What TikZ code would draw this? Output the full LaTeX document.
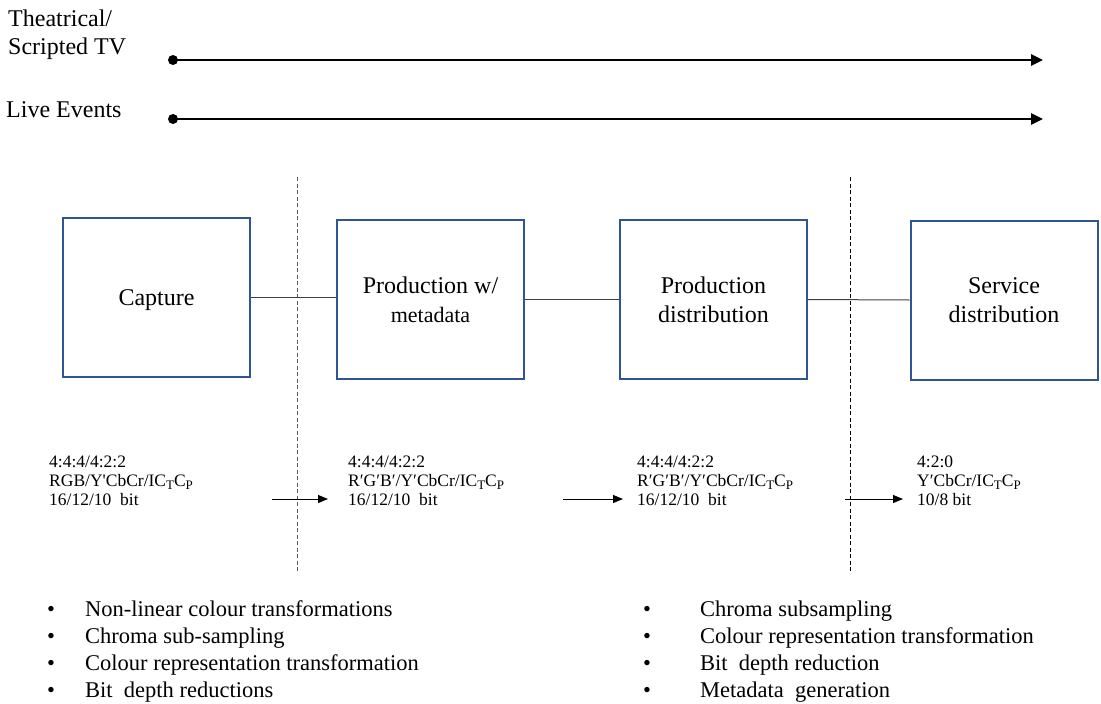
\documentclass[tikz,border=0pt]{standalone}
\usepackage{fontspec}
\setmainfont{Liberation Serif}
\usetikzlibrary{arrows.meta}
\definecolor{boxblue}{RGB}{47,85,151}
\definecolor{linegrey}{RGB}{64,64,64}
\definecolor{dashgrey}{RGB}{90,90,90}
\newcommand{\lowsub}[1]{\raisebox{-3.5pt}{\fontsize{13}{13}\selectfont #1}}
\begin{document}
\begin{tikzpicture}[x=1pt,y=-1pt,
 stage/.style={draw=boxblue,line width=2pt,minimum width=187pt,minimum height=159pt,inner sep=0pt,align=center,font=\fontsize{24}{29}\selectfont},
 lbl/.style={anchor=base west,inner sep=0pt,font=\fontsize{24}{28}\selectfont},
 spec/.style={anchor=base west,inner sep=0pt,font=\fontsize{17.5}{17.5}\selectfont},
 item/.style={anchor=base west,inner sep=0pt,font=\fontsize{22.5}{22.5}\selectfont},
 timeline/.style={line width=2.8pt,-{Triangle[length=12pt,width=11pt]}},
 flow/.style={line width=1pt,-{Triangle[length=10pt,width=8pt]}},
 link/.style={draw=linegrey,line width=1pt},
 divider/.style={line width=1pt,dash pattern=on 4pt off 2.5pt}
]
\useasboundingbox (0,0) rectangle (1101,704);

% timelines
\node[lbl] (th1) at (8,26) {Theatrical/};
\node[lbl] (th2) at (8,54) {Scripted TV};
\node[lbl] (live) at (6,117) {Live Events};
\coordinate (t1s) at (173,60);
\coordinate (t1e) at (1043,60);
\coordinate (t2s) at (173,119);
\coordinate (t2e) at (1043,119);
\draw[timeline] (t1s) -- (t1e);
\draw[timeline] (t2s) -- (t2e);
\fill (t1s) circle (5pt);
\fill (t2s) circle (5pt);

% dividers
\coordinate (d1a) at (297,177);
\coordinate (d1b) at (297,572);
\coordinate (d2a) at (850,177);
\coordinate (d2b) at (850,572);
\draw[divider,draw=dashgrey] (d1a) -- (d1b);
\draw[divider] (d2a) -- (d2b);

% stages
\node[stage,text depth=0pt] (cap) at (156.5,297.5) {Capture};
\node[stage] (prod) at (430.5,299.5) {Production w/\\\fontsize{22}{28}\selectfont metadata};
\node[stage] (pdist) at (713.5,299.5) {Production\\distribution};
\node[stage] (sdist) at (1004,300) {Service\\distribution};
\draw[link] (cap.east) -- (cap.east -| prod.west);
\draw[link] (prod.east) -- (pdist.west);
\draw[link] (pdist.east) -- (sdist.west);

% specs
\node[spec] (s1a) at (49,467) {4:4:4/4:2:2};
\node[spec] (s1b) at (49,486) {RGB/Y\textquotesingle CbCr/IC\lowsub{T}C\lowsub{P}};
\node[spec] (s1c) at (49,505) {16/12/10\ \ bit};
\node[spec] (s2a) at (348,467) {4:4:4/4:2:2};
\node[spec] (s2b) at (348,486) {R′G′B′/Y′CbCr/IC\lowsub{T}C\lowsub{P}};
\node[spec] (s2c) at (348,505) {16/12/10\ \ bit};
\node[spec] (s3a) at (637,467) {4:4:4/4:2:2};
\node[spec] (s3b) at (637,486) {R′G′B′/Y′CbCr/IC\lowsub{T}C\lowsub{P}};
\node[spec] (s3c) at (637,505) {16/12/10\ \ bit};
\node[spec] (s4a) at (917,467) {4:2:0};
\node[spec] (s4b) at (917,486) {Y′CbCr/IC\lowsub{T}C\lowsub{P}};
\node[spec] (s4c) at (917,505) {10/8\ bit};

\coordinate (f1s) at (272,499);
\coordinate (f1e) at (328,499);
\coordinate (f2s) at (563,499);
\coordinate (f2e) at (623,499);
\coordinate (f3s) at (845,499);
\coordinate (f3e) at (903,499);
\draw[flow] (f1s) -- (f1e);
\draw[flow] (f2s) -- (f2e);
\draw[flow] (f3s) -- (f3e);

% bullet lists
\node[item] (b1) at (47,616) {•};
\node[item] (b2) at (47,643) {•};
\node[item] (b3) at (47,670) {•};
\node[item] (b4) at (47,697) {•};
\node[item] (l1) at (85,616) {Non-linear colour transformations};
\node[item] (l2) at (85,643) {Chroma sub-sampling};
\node[item] (l3) at (85,670) {Colour representation transformation};
\node[item] (l4) at (85,697) {Bit\ \ depth reductions};
\node[item] (b5) at (643,616) {•};
\node[item] (b6) at (643,643) {•};
\node[item] (b7) at (643,670) {•};
\node[item] (b8) at (643,697) {•};
\node[item] (r1) at (700,616) {Chroma subsampling};
\node[item] (r2) at (700,643) {Colour representation transformation};
\node[item] (r3) at (700,670) {Bit\ \ depth reduction};
\node[item] (r4) at (700,697) {Metadata\ \ generation};
\end{tikzpicture}
\end{document}
